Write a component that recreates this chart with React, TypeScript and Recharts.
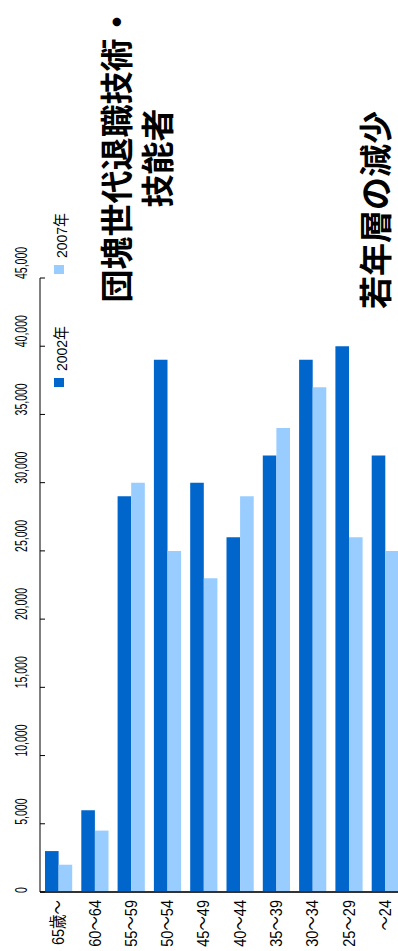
import React from 'react';
import { BarChart, Bar, XAxis, YAxis } from 'recharts';

const CATEGORIES = ['65歳～', '60～64', '55～59', '50～54', '45～49', '40～44', '35～39', '30～34', '25～29', '～24'];
const Y2002 = [3000, 6000, 29000, 39000, 30000, 26000, 32000, 39000, 40000, 32000];
const Y2007 = [2000, 4500, 30000, 25000, 23000, 29000, 34000, 37000, 26000, 25000];
const Y_TICKS = [0, 5000, 10000, 15000, 20000, 25000, 30000, 35000, 40000, 45000];
const SERIES = [
  { key: 'y2002', name: '2002年', color: '#0066CC' },
  { key: 'y2007', name: '2007年', color: '#99CCFF' },
];
const TITLE_1 = '団塊世代退職技術・';
const TITLE_2 = '技能者';
const TITLE_3 = '若年層の減少';

const data = CATEGORIES.map((c, i) => ({ cat: c, y2002: Y2002[i], y2007: Y2007[i] }));

const LATIN = '"Liberation Sans", Arial, "Noto Sans CJK JP", sans-serif';
const CJK = '"Noto Sans CJK JP", "Noto Sans CJK SC", sans-serif';

// value axis labels: rotated, reading upward from the tick
function YTick(props: any) {
  const { x, y, payload } = props;
  return (
    <g>
      <line x1={x + 13} y1={y} x2={x + 18} y2={y} stroke="#000" strokeWidth={1} />
      <text
        transform={`translate(${x}, ${y + 1}) rotate(-90) scale(1, 1.65)`}
        textAnchor="start"
        fontSize={10.5}
        fontFamily={LATIN}
        fill="#000"
      >
        {Number(payload.value).toLocaleString('en-US')}
      </text>
    </g>
  );
}

function XTick(props: any) {
  const { x, y, payload } = props;
  return (
    <text
      transform={`translate(${x}, ${y}) rotate(-90) scale(1, 1.2)`}
      textAnchor="end"
      dy="0.35em"
      fontSize={14.5}
      fontFamily={LATIN}
      fill="#000"
    >
      {payload.value}
    </text>
  );
}

export default function App() {
  return (
    <div style={{ position: 'absolute', left: 0, top: 0, width: 398, height: 951, overflow: 'hidden', background: '#fff' }}>
      <BarChart
        width={410}
        height={951}
        data={data}
        margin={{ top: 278, right: 7, bottom: 0, left: 0 }}
        barGap={0}
      >
        <XAxis
          dataKey="cat"
          height={59}
          tickLine={false}
          tickSize={8}
          tickMargin={0}
          axisLine={{ stroke: '#333', strokeWidth: 2 }}
          tick={<XTick />}
          interval={0}
        />
        <YAxis
          width={40}
          domain={[0, 45000]}
          ticks={Y_TICKS}
          tickLine={false}
          tickSize={0}
          tickMargin={13}
          axisLine={{ stroke: '#000', strokeWidth: 1 }}
          tick={<YTick />}
        />
        {SERIES.map((s) => (
          <Bar key={s.key} dataKey={s.key} name={s.name} fill={s.color} barSize={13.6} isAnimationActive={false} />
        ))}
      </BarChart>

      <svg width={398} height={951} style={{ position: 'absolute', left: 0, top: 0, pointerEvents: 'none' }}>
        {/* legend */}
        {SERIES.map((s, i) => {
          const by = i === 0 ? 378 : 265;
          return (
            <g key={s.key}>
              <rect x={54} y={by} width={10} height={9} fill={s.color} />
              <text
                transform={`translate(67, ${by - 7}) rotate(-90) scale(1, 1.1)`}
                textAnchor="start"
                fontSize={14}
                fontFamily={LATIN}
                fill="#000"
              >
                {s.name}
              </text>
            </g>
          );
        })}

        {/* titles */}
        <text transform="translate(129, 154) rotate(-90)" textAnchor="middle" fontSize={33} fontWeight={700} fontFamily={CJK} fill="#000">
          {TITLE_1}
        </text>
        <text transform="translate(170, 158) rotate(-90)" textAnchor="middle" fontSize={33} fontWeight={700} fontFamily={CJK} fill="#000">
          {TITLE_2}
        </text>
        <text transform="translate(388, 210) rotate(-90)" textAnchor="middle" fontSize={33} fontWeight={700} fontFamily={CJK} fill="#000">
          {TITLE_3}
        </text>
      </svg>
    </div>
  );
}
